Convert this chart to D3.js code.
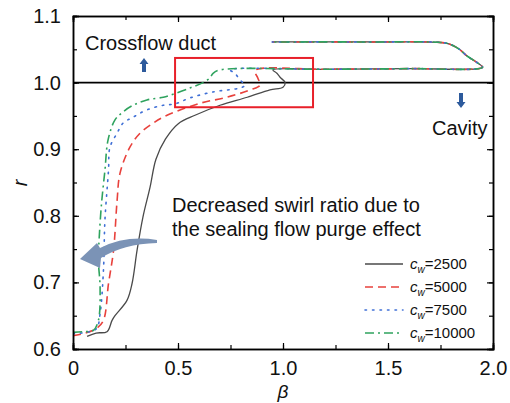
<!DOCTYPE html>
<html lang="en">
<head>
<meta charset="UTF-8">
<title>Swirl ratio vs beta</title>
<style>
  body { margin: 0; background: #fff; }
  text { font-family: "Liberation Sans", Arial, sans-serif; fill: #111; }
</style>
</head>
<body>
<svg height="403" width="510"></svg>

<script src="https://d3js.org/d3.v7.min.js"></script>
<script>

    // values
    var xTicks = [0, 0.5, 1.0, 1.5, 2.0];
    var yTicks = [0.6, 0.7, 0.8, 0.9, 1.0, 1.1];
    var seriesNames = ["2500", "5000", "7500", "10000"];

    // upper loop shared by all cases (lines overlap there)
    var loopBeta = [1.2, 1.6, 1.95, 1.92, 1.876, 1.84, 1.80, 1.76, 1.4, 0.948];
    var loopR    = [1.020, 1.021, 1.023, 1.031, 1.040, 1.050, 1.057, 1.060, 1.061, 1.061];

    var beta2500 = [0.067, 0.11, 0.162, 0.186, 0.20, 0.257, 0.281, 0.305, 0.333, 0.367, 0.395, 0.44, 0.50, 0.581, 0.70, 0.83, 0.938, 1.0, 1.01, 0.986, 0.971, 0.952];
    var r2500    = [0.619, 0.624, 0.626, 0.643, 0.650, 0.673, 0.698, 0.748, 0.798, 0.843, 0.885, 0.915, 0.938, 0.951, 0.966, 0.978, 0.989, 0.993, 1.0, 1.008, 1.014, 1.019];

    var beta5000 = [0, 0.06, 0.113, 0.145, 0.169, 0.193, 0.21, 0.224, 0.271, 0.319, 0.381, 0.448, 0.605, 0.733, 0.843, 0.89, 0.88, 0.867];
    var r5000    = [0.620, 0.624, 0.631, 0.643, 0.698, 0.748, 0.823, 0.864, 0.903, 0.924, 0.939, 0.951, 0.969, 0.978, 0.989, 0.996, 1.007, 1.018];

    var beta7500 = [0, 0.08, 0.113, 0.129, 0.145, 0.152, 0.169, 0.176, 0.21, 0.238, 0.286, 0.352, 0.43, 0.486, 0.557, 0.667, 0.795, 0.819, 0.795, 0.771, 0.748];
    var r7500    = [0.623, 0.626, 0.631, 0.653, 0.718, 0.793, 0.868, 0.903, 0.924, 0.939, 0.948, 0.959, 0.966, 0.968, 0.977, 0.986, 0.992, 0.996, 1.004, 1.014, 1.019];

    var beta10000 = [0, 0.05, 0.097, 0.121, 0.129, 0.121, 0.125, 0.136, 0.152, 0.167, 0.2, 0.238, 0.286, 0.352, 0.43, 0.462, 0.557, 0.619, 0.652, 0.667, 0.70];
    var r10000    = [0.625, 0.626, 0.628, 0.643, 0.692, 0.733, 0.768, 0.819, 0.868, 0.914, 0.944, 0.956, 0.966, 0.974, 0.978, 0.981, 0.992, 1.0, 1.007, 1.014, 1.019];

    var colors = ["#4a4a4a", "#e8413c", "#3f6fd6", "#2fa35e"];
    var dashes = [null, "8,5", "1.5,6", "9,4,2,4"];

    var svg = d3.select("svg"),
        margin = {top: 16, right: 17, bottom: 54, left: 73};
    var w = +svg.attr("width") - margin.left - margin.right;
    var h = +svg.attr("height") - margin.top - margin.bottom;

    var x = d3.scaleLinear().domain([0, 2]).range([margin.left, margin.left + w]);
    var y = d3.scaleLinear().domain([0.6, 1.1]).range([margin.top + h, margin.top]);

    svg.append("clipPath").attr("id", "plot")
        .append("rect").attr("x", x(0)).attr("y", y(1.1)).attr("width", w).attr("height", h);

    var data = [
        d3.zip(beta2500.concat(loopBeta), r2500.concat(loopR)),
        d3.zip(beta5000.concat(loopBeta), r5000.concat(loopR)),
        d3.zip(beta7500.concat(loopBeta), r7500.concat(loopR)),
        d3.zip(beta10000.concat(loopBeta), r10000.concat(loopR))
    ];

    var line = d3.line()
        .x(function(d) { return x(d[0]); })
        .y(function(d) { return y(d[1]); })
        .curve(d3.curveCatmullRom.alpha(0.5));

    var plot = svg.append("g").attr("clip-path", "url(#plot)");

    // reference line r = 1
    plot.append("line")
        .attr("x1", x(0)).attr("x2", x(2))
        .attr("y1", y(1.0)).attr("y2", y(1.0))
        .attr("stroke", "#000").attr("stroke-width", 1.6);

    data.forEach(function(d, i) {
        plot.append("path")
            .datum(d)
            .attr("d", line)
            .attr("fill", "none")
            .attr("stroke", colors[i])
            .attr("stroke-width", i == 0 ? 1.3 : 1.6)
            .attr("stroke-linecap", i == 2 ? "round" : "butt")
            .attr("stroke-dasharray", dashes[i]);
    });

    // zoom box
    svg.append("rect")
        .attr("x", x(0.486)).attr("y", y(1.037))
        .attr("width", x(1.143) - x(0.486))
        .attr("height", y(0.963) - y(1.037))
        .attr("fill", "none").attr("stroke", "#e8202a").attr("stroke-width", 2);

    // axes, ticks inward on all four sides
    var minorX = d3.range(0, 2.001, 0.25), minorY = d3.range(0.6, 1.1001, 0.05);
    function addAxis(axis, tr) {
        svg.append("g").attr("transform", tr).call(axis)
            .call(function(g) {
                g.select(".domain").attr("stroke-width", 1.5);
                g.selectAll(".tick line").attr("stroke-width", 1.2);
                g.selectAll("text").attr("font-size", 20).attr("font-family", "Liberation Sans, Arial, sans-serif");
            });
    }
    addAxis(d3.axisBottom(x).tickValues(minorX).tickSize(-4).tickFormat(""), "translate(0," + y(0.6) + ")");
    addAxis(d3.axisBottom(x).tickValues(xTicks).tickSize(-6).tickPadding(12)
        .tickFormat(function(d) { return d == 0 ? "0" : d3.format(".1f")(d); }), "translate(0," + y(0.6) + ")");
    addAxis(d3.axisTop(x).tickValues(minorX).tickSize(-4).tickFormat(""), "translate(0," + y(1.1) + ")");
    addAxis(d3.axisTop(x).tickValues(xTicks).tickSize(-6).tickFormat(""), "translate(0," + y(1.1) + ")");
    addAxis(d3.axisLeft(y).tickValues(minorY).tickSize(-4).tickFormat(""), "translate(" + x(0) + ",0)");
    addAxis(d3.axisLeft(y).tickValues(yTicks).tickSize(-6).tickPadding(12).tickFormat(d3.format(".1f")), "translate(" + x(0) + ",0)");
    addAxis(d3.axisRight(y).tickValues(minorY).tickSize(-4).tickFormat(""), "translate(" + x(2) + ",0)");
    addAxis(d3.axisRight(y).tickValues(yTicks).tickSize(-6).tickFormat(""), "translate(" + x(2) + ",0)");

    // axis titles
    svg.append("text")
        .attr("transform", "translate(27,183) rotate(-90)")
        .attr("text-anchor", "middle")
        .attr("font-size", 20).attr("font-style", "italic")
        .text("r");
    svg.append("text")
        .attr("x", x(1.0)).attr("y", 398)
        .attr("text-anchor", "middle")
        .attr("font-size", 19).attr("font-style", "italic")
        .text("β");

    // annotations
    svg.append("text").attr("x", 85).attr("y", 50).attr("font-size", 20).text("Crossflow duct");
    svg.append("text").attr("x", 432).attr("y", 135).attr("font-size", 20).text("Cavity");
    svg.append("text").attr("x", 172).attr("y", 212).attr("font-size", 20).text("Decreased swirl ratio due to");
    svg.append("text").attr("x", 172).attr("y", 236).attr("font-size", 20).text("the sealing flow purge effect");

    function blockArrow(cx, top, bottom, dir) {
        // small solid arrow, dir = -1 up, 1 down
        var tip = dir < 0 ? top : bottom, base = dir < 0 ? top + 6 : bottom - 6;
        var tailEnd = dir < 0 ? bottom : top;
        var p = d3.path();
        p.moveTo(cx, tip);
        p.lineTo(cx + 4.5, base);
        p.lineTo(cx + 2, base);
        p.lineTo(cx + 2, tailEnd);
        p.lineTo(cx - 2, tailEnd);
        p.lineTo(cx - 2, base);
        p.lineTo(cx - 4.5, base);
        p.closePath();
        svg.append("path").attr("d", p.toString()).attr("fill", "#2d5a9c");
    }
    blockArrow(144, 58, 72, -1);
    blockArrow(461, 93, 108, 1);

    // curved arrow pointing to lower swirl
    svg.append("path")
        .attr("d", "M157,240 Q126,235 100,248 L97,243 L80,259 L100,268 L101,258 Q123,244 157,243 Z")
        .attr("fill", "#7b93b6");

    // legend
    var legend = svg.append("g");
    seriesNames.forEach(function(name, i) {
        var ly = 264 + i * 23;
        legend.append("line")
            .attr("x1", 365).attr("x2", 403).attr("y1", ly).attr("y2", ly)
            .attr("stroke", colors[i]).attr("stroke-width", i == 0 ? 1.3 : 1.6)
            .attr("stroke-linecap", i == 2 ? "round" : "butt")
            .attr("stroke-dasharray", dashes[i]);
        var t = legend.append("text").attr("x", 410).attr("y", ly + 5).attr("font-size", 15);
        t.append("tspan").attr("font-style", "italic").text("c");
        t.append("tspan").attr("font-style", "italic").attr("font-size", 10).attr("dy", 4).text("w");
        t.append("tspan").attr("dy", -4).text("=" + name);
    });

</script>
</body>
</html>
